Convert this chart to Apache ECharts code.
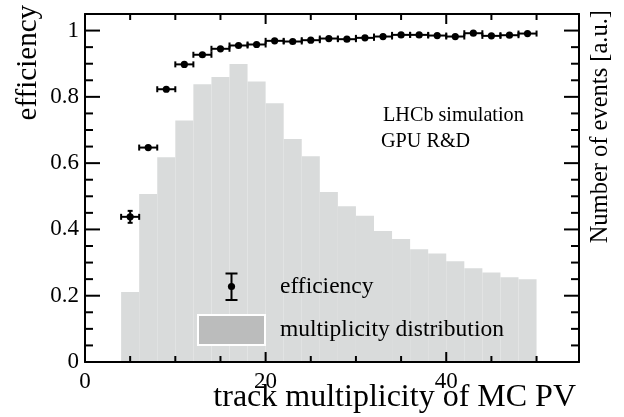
<!DOCTYPE html>
<html>
<head>
<meta charset="utf-8">
<script src="https://cdn.jsdelivr.net/npm/echarts@6/dist/echarts.min.js"></script>
<style>html,body{margin:0;padding:0;background:#fff}#c{width:624px;height:417px}</style>
</head>
<body>
<div id="c"></div>
<script>
// ---- data ----
var effX    = [5,7,9,11,13,15,17,19,21,23,25,27,29,31,33,35,37,39,41,43,45,47,49];
var effY    = [0.438,0.647,0.823,0.898,0.927,0.945,0.955,0.958,0.969,0.967,0.971,0.976,0.974,0.978,0.982,0.987,0.987,0.985,0.982,0.992,0.984,0.986,0.991];
var effXErr = [1,1,1,1,1,1,1,1,1,1,1,1,1,1,1,1,1,1,1,1,1,1,1];
var effYErr = [0.018,0.008,0.006,0.005,0.004,0.004,0.003,0.003,0.003,0.003,0.003,0.003,0.003,0.003,0.003,0.003,0.003,0.003,0.003,0.003,0.003,0.003,0.003];
var histLo  = [4,6,8,10,12,14,16,18,20,22,24,26,28,30,32,34,36,38,40,42,44,46,48];
var histHi  = [6,8,10,12,14,16,18,20,22,24,26,28,30,32,34,36,38,40,42,44,46,48,50];
var histVal = [0.211,0.507,0.618,0.729,0.838,0.860,0.899,0.846,0.781,0.673,0.621,0.513,0.470,0.441,0.395,0.371,0.340,0.327,0.304,0.283,0.270,0.256,0.250];
var xTicks      = [0,20,40];
var xMinorTicks = [5,10,15,25,30,35,45,50];
var yTicks      = [0,0.2,0.4,0.6,0.8,1];
var yMinorTicks = [0.05,0.1,0.15,0.25,0.3,0.35,0.45,0.5,0.55,0.65,0.7,0.75,0.85,0.9,0.95];

var XMAX = 54.7, YMAX = 1.05;
var FONT = '"Liberation Serif","Times New Roman",serif';
var chart = echarts.init(document.getElementById('c'), null, {renderer:'canvas'});

function xAx(pos, showLabel){
  return {
    type:'value', position:pos, min:0, max:XMAX, interval:20, z:10,
    axisLine:{show:true, onZero:false, lineStyle:{color:'#000', width:2}},
    axisTick:{show:false},
    axisLabel:{show:showLabel, showMaxLabel:false, margin:8, color:'#000', fontFamily:FONT, fontSize:23,
      formatter:function(v){ return xTicks.indexOf(v) >= 0 ? String(v) : ''; }},
    splitLine:{show:false}
  };
}
function yAx(pos, showLabel){
  return {
    type:'value', position:pos, min:0, max:YMAX, interval:0.2, z:10,
    axisLine:{show:true, onZero:false, lineStyle:{color:'#000', width:2}},
    axisTick:{show:false},
    axisLabel:{show:showLabel, showMaxLabel:false, margin:6, color:'#000', fontFamily:FONT, fontSize:23,
      formatter:function(v){ var r=Math.round(v*100)/100; return yTicks.indexOf(r) >= 0 ? String(r) : ''; }},
    splitLine:{show:false}
  };
}

var histData = histLo.map(function(lo,i){ return [lo, histHi[i], histVal[i]]; });
var effData  = effX.map(function(x,i){ return [x, effY[i], effXErr[i], effYErr[i]]; });

function frameTicks(api){
  var out = [];
  var st = {stroke:'#000', lineWidth:2};
  function xt(v, len){
    var b = api.coord([v, 0]), t = api.coord([v, YMAX]);
    out.push({type:'line', shape:{x1:b[0], y1:b[1], x2:b[0], y2:b[1]-len}, style:st});
    out.push({type:'line', shape:{x1:t[0], y1:t[1], x2:t[0], y2:t[1]+len}, style:st});
  }
  function yt(v, len){
    var l = api.coord([0, v]), r = api.coord([XMAX, v]);
    out.push({type:'line', shape:{x1:l[0], y1:l[1], x2:l[0]+len, y2:l[1]}, style:st});
    out.push({type:'line', shape:{x1:r[0], y1:r[1], x2:r[0]-len, y2:r[1]}, style:st});
  }
  xTicks.forEach(function(v){ xt(v, 10); });
  xMinorTicks.forEach(function(v){ xt(v, 6); });
  yTicks.forEach(function(v){ yt(v, 15); });
  yMinorTicks.forEach(function(v){ yt(v, 8); });
  return out;
}

var option = {
  backgroundColor:'#fff',
  animation:false,
  grid:{left:85, right:45, top:14, bottom:55, containLabel:false},
  xAxis:[ xAx('bottom',true), xAx('top',false) ],
  yAxis:[ yAx('left',true),   yAx('right',false) ],
  series:[
    {
      type:'custom', name:'multiplicity distribution', xAxisIndex:0, yAxisIndex:0, z:1,
      data:histData,
      encode:{x:[0,1], y:2},
      renderItem:function(params, api){
        var p0 = api.coord([api.value(0), api.value(2)]);
        var p1 = api.coord([api.value(1), 0]);
        return {type:'rect', shape:{x:p0[0], y:p0[1], width:p1[0]-p0[0], height:p1[1]-p0[1]},
                style:{fill:'#d9dbdb', stroke:null}};
      }
    },
    {
      type:'custom', name:'efficiency', xAxisIndex:0, yAxisIndex:0, z:5,
      data:effData,
      encode:{x:0, y:1},
      renderItem:function(params, api){
        var x = api.value(0), y = api.value(1), ex = api.value(2), ey = api.value(3);
        var c  = api.coord([x, y]);
        var l  = api.coord([x-ex, y]);
        var r  = api.coord([x+ex, y]);
        var t  = api.coord([x, y+ey]);
        var b  = api.coord([x, y-ey]);
        var st = {stroke:'#000', lineWidth:2};
        var kids = [
          {type:'line', shape:{x1:l[0], y1:l[1], x2:r[0], y2:r[1]}, style:st},
          {type:'line', shape:{x1:l[0], y1:l[1]-3, x2:l[0], y2:l[1]+3}, style:st},
          {type:'line', shape:{x1:r[0], y1:r[1]-3, x2:r[0], y2:r[1]+3}, style:st}
        ];
        if (c[1]-t[1] > 4) {
          kids.push({type:'line', shape:{x1:t[0], y1:t[1], x2:b[0], y2:b[1]}, style:st});
          kids.push({type:'line', shape:{x1:t[0]-2.5, y1:t[1], x2:t[0]+2.5, y2:t[1]}, style:st});
          kids.push({type:'line', shape:{x1:b[0]-2.5, y1:b[1], x2:b[0]+2.5, y2:b[1]}, style:st});
        }
        kids.push({type:'circle', shape:{cx:c[0], cy:c[1], r:3.6}, style:{fill:'#000'}});
        if (params.dataIndex === 0) kids = kids.concat(frameTicks(api));
        return {type:'group', children:kids};
      }
    }
  ],
  graphic:{elements:[
    {type:'text', x:28, y:5, rotation:Math.PI/2, z:100,
     style:{text:'efficiency', fontFamily:FONT, fontSize:29, fill:'#000', align:'right', verticalAlign:'middle'}},
    {type:'text', x:576, y:398, z:100,
     style:{text:'track multiplicity of MC PV', fontFamily:FONT, fontSize:32, fill:'#000', align:'right', verticalAlign:'middle'}},
    {type:'text', x:601, y:10, rotation:Math.PI/2, z:100,
     style:{text:'Number of events [a.u.]', fontFamily:FONT, fontSize:24.5, fill:'#000', align:'right', verticalAlign:'middle'}},
    {type:'text', x:383, y:116, z:100,
     style:{text:'LHCb simulation', fontFamily:FONT, fontSize:20.2, fill:'#000', align:'left', verticalAlign:'middle'}},
    {type:'text', x:381, y:142, z:100,
     style:{text:'GPU R&D', fontFamily:FONT, fontSize:20.2, fill:'#000', align:'left', verticalAlign:'middle'}},
    {type:'line', z:100, shape:{x1:231.5, y1:273.5, x2:231.5, y2:300}, style:{stroke:'#000', lineWidth:2}},
    {type:'line', z:100, shape:{x1:225.5, y1:273.5, x2:237.5, y2:273.5}, style:{stroke:'#000', lineWidth:2}},
    {type:'line', z:100, shape:{x1:225.5, y1:300, x2:237.5, y2:300}, style:{stroke:'#000', lineWidth:2}},
    {type:'circle', z:100, shape:{cx:231.5, cy:286.5, r:3.6}, style:{fill:'#000'}},
    {type:'text', z:100, x:280, y:287, style:{text:'efficiency', fontFamily:FONT, fontSize:23.5, fill:'#000', align:'left', verticalAlign:'middle'}},
    {type:'rect', z:100, shape:{x:198, y:315, width:67, height:30}, style:{fill:'#bbbcbc', stroke:'#fff', lineWidth:2}},
    {type:'text', z:100, x:280, y:330, style:{text:'multiplicity distribution', fontFamily:FONT, fontSize:23.5, fill:'#000', align:'left', verticalAlign:'middle'}}
  ]}
};
chart.setOption(option);
</script>
</body>
</html>
